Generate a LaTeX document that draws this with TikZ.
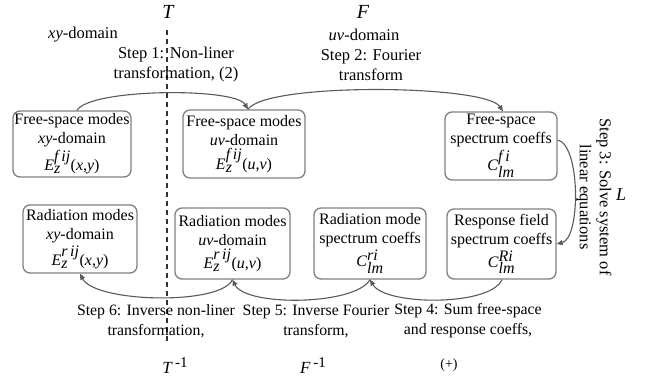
\documentclass[tikz,border=0pt]{standalone}
\usepackage{fontspec}
\setmainfont{Liberation Serif}
\usetikzlibrary{arrows.meta}
\definecolor{boxgray}{HTML}{808080}
\definecolor{linegray}{HTML}{5A5A5A}
\definecolor{dashgray}{HTML}{333333}
\begin{document}
\begin{tikzpicture}[x=1pt,y=-1pt,
  box/.style={draw=boxgray, line width=1.3pt, rounded corners=7pt, align=center, inner sep=0pt, font=\fontsize{16}{19}\selectfont},
  lbl/.style={align=center, font=\fontsize{16.5}{20}\selectfont, inner sep=0pt},
  blbl/.style={align=center, font=\fontsize{15.8}{20}\selectfont, inner sep=0pt},
  conn/.style={draw=linegray, line width=1.1pt, -{Triangle[length=6pt,width=5pt]}},
  bigsym/.style={font=\fontsize{20}{24}\selectfont\itshape, inner sep=0pt},
  invsym/.style={font=\fontsize{17}{20}\selectfont, inner sep=0pt}]
\useasboundingbox (0,0) rectangle (652,380);
\fill[white] (0,0) rectangle (652,380);

% dashed separator
\coordinate (dtop) at (167,30);
\coordinate (dbot) at (167,343);
\draw[dashgray, line width=1.6pt, dash pattern=on 5pt off 4pt] (dtop) -- (dbot);

% boxes
\node[box, minimum width=118pt, minimum height=66pt] (A) at (72,144)
  {Free-space modes\\\textit{xy}-domain\\[2pt]\textit{E}$^{\textit{f\,ij}}_{\textit{z}}$(\textit{x},\textit{y})};
\node[box, minimum width=122pt, minimum height=68pt] (B) at (244,144)
  {Free-space modes\\\textit{uv}-domain\\[2pt]\textit{E}$^{\textit{f\,ij}}_{\textit{z}}$(\textit{u},\textit{v})};
\node[box, minimum width=112pt, minimum height=68pt] (C) at (501,146)
  {Free-space\\spectrum coeffs\\[2pt]\textit{C}$^{\textit{f\,i}}_{\textit{lm}}$};
\node[box, minimum width=114pt, minimum height=68pt] (D) at (80,239)
  {Radiation modes\\\textit{xy}-domain\\[2pt]\textit{E}$^{\textit{r\,ij}}_{\textit{z}}$(\textit{x},\textit{y})};
\node[box, minimum width=115pt, minimum height=71pt] (E) at (232.5,243.5)
  {Radiation modes\\\textit{uv}-domain\\[2pt]\textit{E}$^{\textit{r\,ij}}_{\textit{z}}$(\textit{u},\textit{v})};
\node[box, minimum width=112pt, minimum height=71pt] (F) at (370,243.5)
  {Radiation mode\\spectrum coeffs\\[2pt]\textit{C}$^{\textit{ri}}_{\textit{lm}}$};
\node[box, minimum width=109pt, minimum height=70pt] (G) at (501.5,244)
  {Response field\\spectrum coeffs\\[2pt]\textit{C}$^{\textit{Ri}}_{\textit{lm}}$};

% top labels
\node[bigsym] (T) at (168,12) {T};
\node[bigsym] (Fs) at (363,12) {F};
\node[lbl] (xyd) at (83,35) {\textit{xy}-domain};
\node[lbl] (uvd) at (364,35) {\textit{uv}-domain};
\node[lbl] (s1) at (176,65) {Step 1: Non-liner\\transformation, (2)};
\node[lbl] (s2) at (371,65) {Step 2: Fourier\\transform};

% right labels
\node[lbl, rotate=-90] (s3) at (594,197) {Step 3: Solve system of\\linear equations};
\node[font=\fontsize{18}{20}\selectfont\itshape, inner sep=0pt] (L) at (621,195) {L};

% bottom labels
\node[blbl] (s6) at (156,321) {Step 6: Inverse non-liner\\transformation,};
\node[blbl] (s5) at (316,321) {Step 5: Inverse Fourier\\transform,};
\node[blbl] (s4) at (468,321) {Step 4: Sum free-space\\and response coeffs,};
\node[invsym] (Ti) at (175,366) {\textit{T}\raisebox{6pt}{\fontsize{15}{15}\selectfont\,-1}};
\node[invsym] (Fi) at (313,366) {\textit{F}\raisebox{6pt}{\fontsize{15}{15}\selectfont\,-1}};
\node[font=\fontsize{14}{16}\selectfont, inner sep=0pt] (plus) at (449,365) {(+)};

% connectors
\draw[conn] ([xshift=5pt]A.north) .. controls +(13,-22) and +(-13,-22) .. ([xshift=4pt]B.north);
\draw[conn] ([xshift=4pt]B.north) .. controls +(17,-27) and +(-18,-27) .. ([xshift=2pt]C.north);
\draw[conn] ([yshift=6pt]C.east) .. controls +(23,5) and +(24,-6) .. (G.east);
\draw[conn] ([xshift=0.5pt]G.south) .. controls +(-12,27) and +(15,26) .. (F.south);
\draw[conn] (F.south) .. controls +(-15,26) and +(13,27) .. (E.south);
\draw[conn] (E.south) .. controls +(-12,26) and +(15,29) .. (D.south);
\end{tikzpicture}
\end{document}
